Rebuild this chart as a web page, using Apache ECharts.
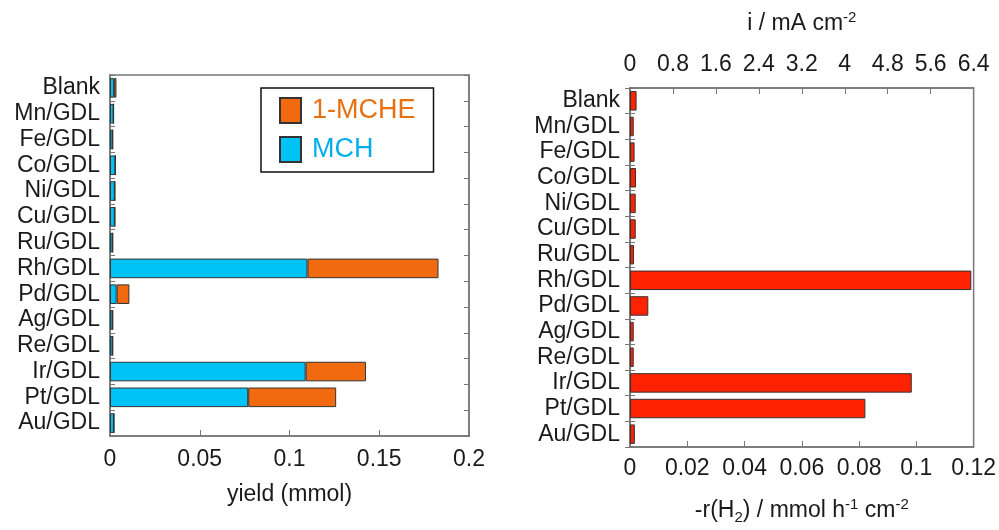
<!DOCTYPE html>
<html>
<head>
<meta charset="utf-8">
<script src="https://cdn.jsdelivr.net/npm/echarts@6/dist/echarts.min.js"></script>
<style>
  html, body { margin: 0; padding: 0; background: #fff; }
  #chart { width: 999px; height: 530px; }
</style>
</head>
<body>
<div id="chart"></div>
<script>
  const catalysts = ['Blank', 'Mn/GDL', 'Fe/GDL', 'Co/GDL', 'Ni/GDL', 'Cu/GDL', 'Ru/GDL',
    'Rh/GDL', 'Pd/GDL', 'Ag/GDL', 'Re/GDL', 'Ir/GDL', 'Pt/GDL', 'Au/GDL'];
  // yield (mmol)
  const mchYield = [0.0023, 0.002, 0.0015, 0.003, 0.0027, 0.0027, 0.0015,
    0.110, 0.0037, 0.0015, 0.0015, 0.109, 0.077, 0.0022];
  const mcheYield = [0.0013, 0, 0, 0, 0, 0, 0,
    0.073, 0.0071, 0, 0, 0.0336, 0.049, 0];
  // -r(H2) / mmol h-1 cm-2
  const h2Rate = [0.0023, 0.0013, 0.0016, 0.0021, 0.002, 0.002, 0.0014,
    0.1192, 0.0064, 0.0013, 0.0013, 0.0984, 0.0822, 0.0017];

  const font = "'Liberation Sans', Arial, sans-serif";
  const txt = '#1a1a1a';
  const frame = '#777';

  const chart = echarts.init(document.getElementById('chart'));

  const catAxis = (grid, pos, labels) => ({
    type: 'category',
    gridIndex: grid,
    position: pos,
    data: catalysts,
    inverse: true,
    axisLine: { show: true, lineStyle: { color: frame, width: 1.5 } },
    axisTick: { show: true, inside: true, interval: 0, length: 5, lineStyle: { color: frame } },
    axisLabel: { show: labels, interval: 0, color: txt, fontSize: 23, fontFamily: font, margin: 10 },
  });

  const valAxis = (grid, pos, max, interval, labelMargin, name, nameGap, fmt) => ({
    type: 'value',
    gridIndex: grid,
    position: pos,
    min: 0,
    max: max,
    interval: interval,
    splitLine: { show: false },
    axisLine: { show: true, lineStyle: { color: frame, width: 1.5 } },
    axisTick: { show: true, inside: true, length: 6, lineStyle: { color: frame } },
    axisLabel: { color: txt, fontSize: 23, fontFamily: font, margin: labelMargin, formatter: fmt },
    name: name,
    nameLocation: 'middle',
    nameGap: nameGap,
    nameTextStyle: {
      color: txt, fontSize: 23, fontFamily: font, lineHeight: 28,
      rich: {
        sup: { fontSize: 15, fontFamily: font, color: txt, verticalAlign: 'top', lineHeight: 28 },
        sub: { fontSize: 15, fontFamily: font, color: txt, verticalAlign: 'bottom', lineHeight: 24 },
      },
    },
  });

  const barBorder = { borderColor: '#333', borderWidth: 1 };

  chart.setOption({
    animation: false,
    textStyle: { fontFamily: font },
    grid: [
      { left: 110, top: 75, width: 359, height: 361, show: true, borderColor: frame, borderWidth: 1.5 },
      { left: 630, top: 88, width: 344, height: 361, show: true, borderColor: frame, borderWidth: 1.5 },
    ],
    legend: {
      left: 261,
      top: 88,
      orient: 'vertical',
      icon: 'rect',
      padding: [9, 18, 9, 18],
      itemGap: 12,
      itemWidth: 21,
      itemHeight: 25,
      borderColor: '#111',
      borderWidth: 1.5,
      textStyle: { fontSize: 27, fontFamily: font, padding: [0, 0, 0, 6] },
      data: [
        { name: '1-MCHE', textStyle: { color: '#E8700F' } },
        { name: 'MCH', textStyle: { color: '#00AEEF' } },
      ],
    },
    xAxis: [
      valAxis(0, 'bottom', 0.2, 0.05, 12, 'yield (mmol)', 45, (v) => String(+v.toFixed(2))),
      valAxis(1, 'bottom', 0.12, 0.02, 10, '-r(H{sub|2}) / mmol h{sup|-1} cm{sup|-2}', 50, (v) => String(+v.toFixed(2))),
      valAxis(1, 'top', 6.4, 0.8, 12, 'i / mA cm{sup|-2}', 50, (v) => String(+v.toFixed(1))),
    ],
    yAxis: [
      catAxis(0, 'left', true),
      catAxis(0, 'right', false),
      catAxis(1, 'left', true),
      catAxis(1, 'right', false),
    ],
    series: [
      {
        name: 'MCH',
        type: 'bar',
        stack: 'yield',
        xAxisIndex: 0,
        yAxisIndex: 0,
        barWidth: '76%',
        itemStyle: Object.assign({ color: '#00C3F5' }, barBorder),
        data: mchYield,
      },
      {
        name: '1-MCHE',
        type: 'bar',
        stack: 'yield',
        xAxisIndex: 0,
        yAxisIndex: 0,
        barWidth: '76%',
        itemStyle: Object.assign({ color: '#F26A10' }, barBorder),
        data: mcheYield,
      },
      {
        name: '-r(H2)',
        type: 'bar',
        xAxisIndex: 1,
        yAxisIndex: 2,
        barWidth: '76%',
        itemStyle: Object.assign({ color: '#FF2200' }, barBorder),
        data: h2Rate,
      },
    ],
  });
</script>
</body>
</html>
